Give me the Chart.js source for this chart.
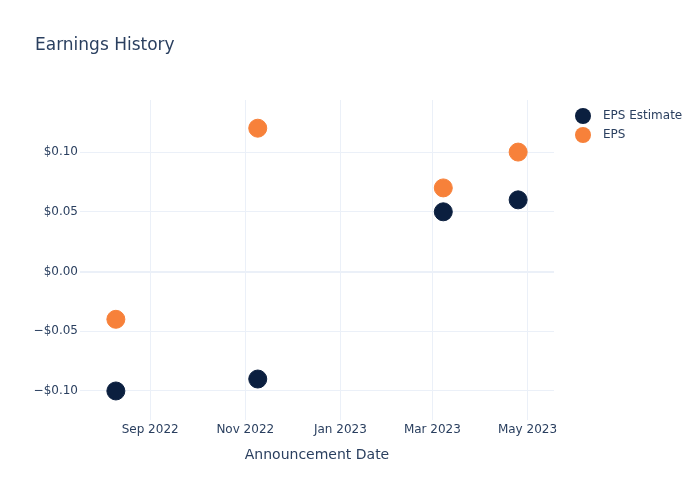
<!DOCTYPE html>
<html>
<head>
<meta charset="utf-8">
<script src="https://cdn.jsdelivr.net/npm/chart.js@4/dist/chart.umd.min.js"></script>
<style>
  html,body{margin:0;padding:0;background:#fff;}
  #wrap{position:relative;width:700px;height:500px;font-family:"DejaVu Sans",sans-serif;color:#2a3f5f;}
  #title{position:absolute;left:35px;top:34px;font-size:17px;white-space:nowrap;}
  .leg{position:absolute;left:575px;font-size:12px;white-space:nowrap;line-height:16px;}
  .leg span.dot{display:inline-block;width:16px;height:16px;border-radius:50%;vertical-align:middle;margin-right:12px;}
  canvas{position:absolute;left:0;top:0;}
</style>
</head>
<body>
<div id="wrap">
  <canvas id="c" width="700" height="500"></canvas>
  <div id="title">Earnings History</div>
  <div class="leg" style="top:107px"><span class="dot" style="background:#0b1f3f"></span>EPS Estimate</div>
  <div class="leg" style="top:126px"><span class="dot" style="background:#f7813a"></span>EPS</div>
</div>
<script>
const dates = ["2022-08-10", "2022-11-09", "2023-03-08", "2023-04-25"];
const epsEstimate = [-0.10, -0.09, 0.05, 0.06];
const eps = [-0.04, 0.12, 0.07, 0.10];
const xTickDates = ["2022-09-01", "2022-11-01", "2023-01-01", "2023-03-01", "2023-05-01"];
const xTickLabels = ["Sep 2022", "Nov 2022", "Jan 2023", "Mar 2023", "May 2023"];
const yTickValues = [-0.10, -0.05, 0.00, 0.05, 0.10];
const xRange = ["2022-07-18", "2023-05-18"];
const yRange = [-0.1243, 0.1436];

const t = s => Date.parse(s + "T00:00:00Z");
const toPts = vals => dates.map((d, i) => ({x: t(d), y: vals[i]}));
const fmtY = v => (v < -1e-9 ? "\u2212$" : "$") + Math.abs(v).toFixed(2);
const grid = "#ebf0f8";
const txt = "#2a3f5f";
const font = {family: "DejaVu Sans", size: 12};

new Chart(document.getElementById("c"), {
  type: "scatter",
  data: {
    datasets: [
      {label: "EPS Estimate", data: toPts(epsEstimate), backgroundColor: "#0b1f3f", borderColor: "#0b1f3f", pointRadius: 9, pointHoverRadius: 9},
      {label: "EPS", data: toPts(eps), backgroundColor: "#f7813a", borderColor: "#f7813a", pointRadius: 9, pointHoverRadius: 9}
    ]
  },
  options: {
    responsive: false,
    animation: false,
    layout: {padding: {top: 100, right: 146, left: 0, bottom: 0}},
    plugins: {legend: {display: false}, title: {display: false}, tooltip: {enabled: false}},
    scales: {
      x: {
        type: "linear",
        min: t(xRange[0]), max: t(xRange[1]),
        afterBuildTicks: s => { s.ticks = xTickDates.map(d => ({value: t(d)})); },
        afterFit: s => { s.height = 80; },
        grid: {color: grid, lineWidth: 1, drawTicks: false},
        border: {display: false},
        ticks: {
          color: txt, font: font, padding: 3, maxRotation: 0, autoSkip: false,
          callback: (v) => { const i = xTickDates.findIndex(d => t(d) === v); return i >= 0 ? xTickLabels[i] : ""; }
        },
        title: {display: true, text: "Announcement Date", color: txt, font: {family: "DejaVu Sans", size: 14}, padding: {top: 4, bottom: 36}}
      },
      y: {
        type: "linear",
        min: yRange[0], max: yRange[1],
        afterBuildTicks: s => { s.ticks = yTickValues.map(v => ({value: v})); },
        afterFit: s => { s.width = 80; },
        grid: {
          color: grid, drawTicks: false,
          lineWidth: c => (c.tick && Math.abs(c.tick.value) < 1e-9 ? 2 : 1)
        },
        border: {display: false},
        ticks: {color: txt, font: font, padding: 2, callback: v => fmtY(v)}
      }
    }
  }
});
</script>
</body>
</html>
